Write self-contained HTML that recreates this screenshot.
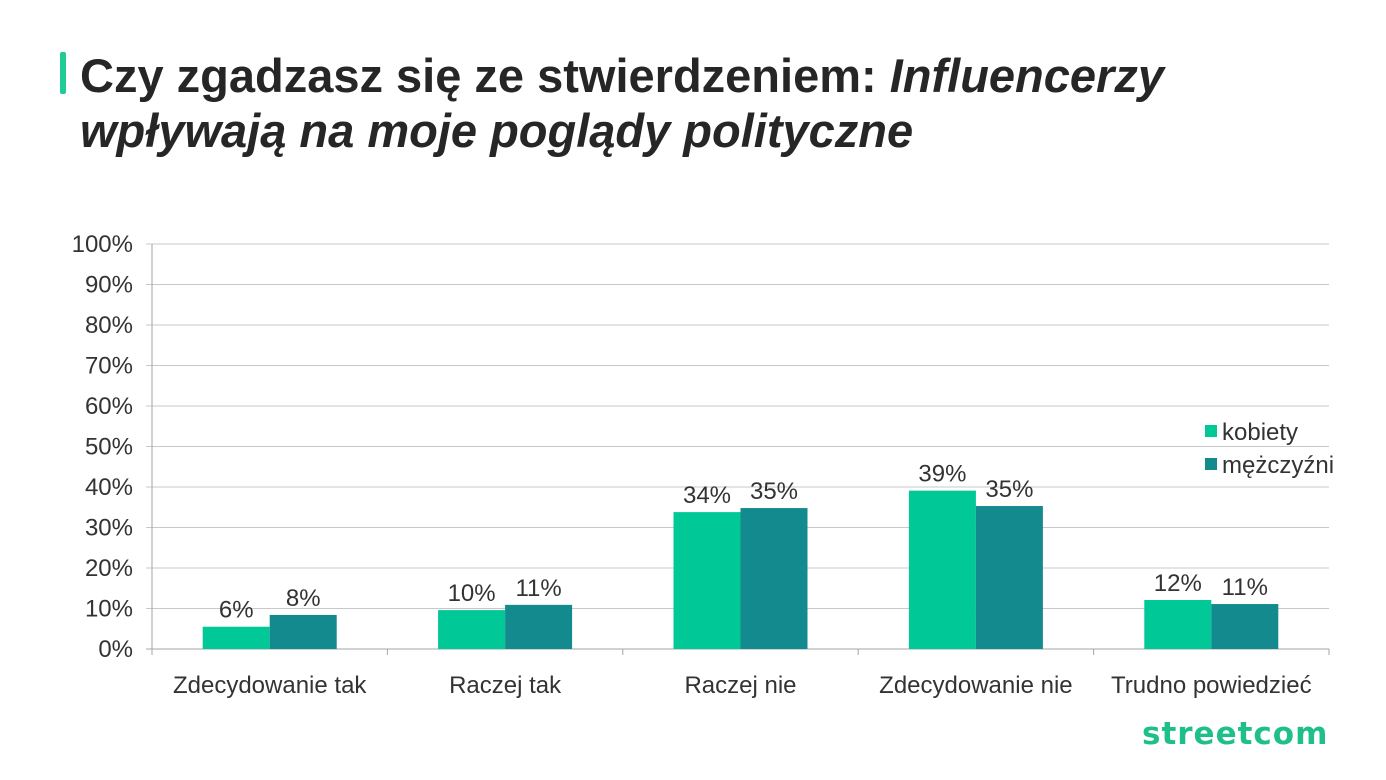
<!DOCTYPE html>
<html><head><meta charset="utf-8"><style>
body{margin:0;width:1386px;height:780px;background:#fff;overflow:hidden;font-family:"Liberation Sans",sans-serif}
#title{position:absolute;left:80px;top:48px;font-size:47px;font-weight:bold;color:#262626;line-height:55px;margin:0}
#accent{position:absolute;left:60px;top:52px;width:6px;height:42px;background:#1fcc96;border-radius:2px}
#logo{position:absolute;left:1142px;top:716px;font-size:31px;font-weight:bold;color:#1fbf8a;letter-spacing:1px;font-family:"DejaVu Sans","Liberation Sans",sans-serif}
</style></head><body>
<div id="accent"></div>
<h1 id="title">Czy zgadzasz się ze stwierdzeniem: <i>Influencerzy</i><br><i>wpływają na moje poglądy polityczne</i></h1>
<svg id="chart" width="1386" height="780" style="position:absolute;left:0;top:0"></svg>
<div id="logo">streetcom</div>
<script>
const categories=["Zdecydowanie tak","Raczej tak","Raczej nie","Zdecydowanie nie","Trudno powiedzieć"];
const kobiety=[5.5,9.6,33.8,39.1,12.1];
const mezczyzni=[8.4,10.9,34.8,35.3,11.1];
const kobietyLabels=["6%","10%","34%","39%","12%"];
const mezczyzniLabels=["8%","11%","35%","35%","11%"];
const yTicks=[0,10,20,30,40,50,60,70,80,90,100];
const NS="http://www.w3.org/2000/svg",svg=document.getElementById('chart');
const x0=152,x1=1329,y0=649,y1=244,FS=24;
const y=v=>y0-(v/100)*(y0-y1);
const bw=(x1-x0)/categories.length;
const cx=i=>x0+bw*(i+0.5);
function mk(t,a,txt){const e=document.createElementNS(NS,t);for(const k in a)e.setAttribute(k,a[k]);if(txt!=null)e.textContent=txt;svg.appendChild(e);return e;}
yTicks.forEach(v=>{
 const l=mk('line',{x1:x0-6,x2:x1,y1:y(v),y2:y(v),stroke:v==0?'#a6a6a6':'#c8c8c8','stroke-width':1});
 
 
 const t=mk('text',{x:133,y:y(v)+8,'text-anchor':'end','font-size':FS,fill:'#333'},v+'%');
 
 
});
const ax=mk('line',{x1:x0,x2:x0,y1:y1,y2:y0,stroke:'#a6a6a6'});


for(let i=0;i<=categories.length;i++){
 const tk=mk('line',{x1:x0+bw*i,x2:x0+bw*i,y1:y0,y2:y0+6,stroke:'#a6a6a6'});
 
 
}
const W=67;
categories.forEach((c,i)=>{
 const t=mk('text',{x:cx(i),y:693,'text-anchor':'middle','font-size':FS,fill:'#333'},c);
 
 
 [[kobiety,kobietyLabels,'#00c896',-W,'kobiety'],[mezczyzni,mezczyzniLabels,'#128a8e',0,'mezczyzni']].forEach(([d,lb,col,off,n])=>{
  const r=mk('rect',{x:cx(i)+off,y:y(d[i]),width:W,height:y0-y(d[i]),fill:col});
  
  
  const vt=mk('text',{x:cx(i)+off+W/2,y:y(d[i])-9,'text-anchor':'middle','font-size':FS,fill:'#333'},lb[i]);
  
  
 });
});
[['kobiety','#00c896',432],['mężczyźni','#128a8e',465]].forEach(([n,c,yy])=>{
 const r=mk('rect',{x:1205,y:yy-7,width:12,height:12,fill:c});
 
 
 const t=mk('text',{x:1222,y:yy+8,'font-size':FS,fill:'#333'},n);
 
 
});
</script>
</body></html>
